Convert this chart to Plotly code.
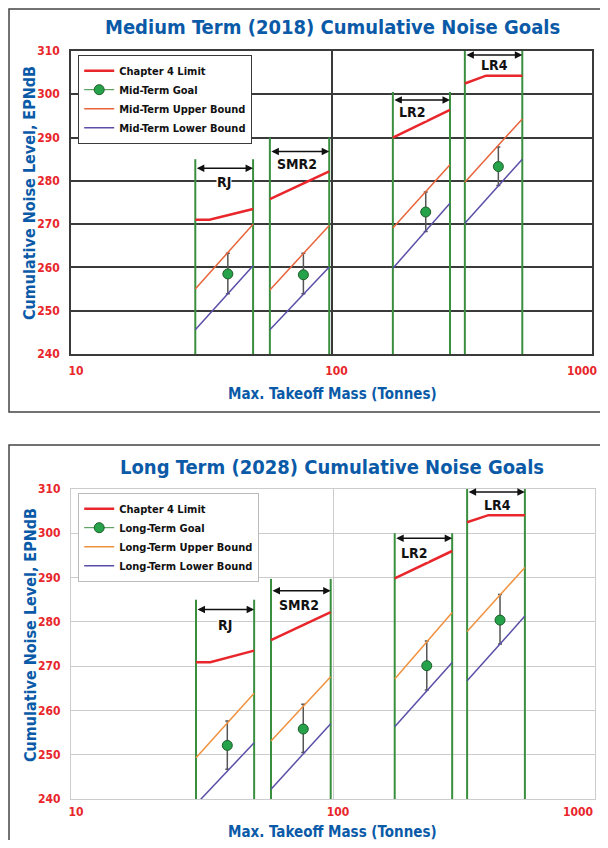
import numpy as np
import plotly.graph_objects as go

# ---------------- data ----------------
cats = ["RJ", "SMR2", "LR2", "LR4"]
mass_lo = [30, 58, 172, 325]
mass_hi = [50, 98, 285, 540]
label_mass = [38.7, 74, 205, 424]

ch4_mass = [[30, 34, 50], [58, 98], [172, 285], [325, 392, 540]]
ch4_mid = [[271, 271, 273.5], [275.8, 282.2], [290, 296.4], [302.5, 304.3, 304.3]]
ch4_long = [[270.9, 270.9, 273.5], [275.9, 282.2], [289.8, 296.0], [302.5, 304.1, 304.1]]

upper_mid = [[255, 270], [254.8, 269.7], [269.1, 283.7], [279.7, 294.3]]
lower_mid = [[245.6, 260.4], [245.6, 260.1], [259.8, 274.8], [270.2, 285.0]]
upper_long = [[249.3, 263.9], [253.1, 267.6], [267.1, 282.1], [277.8, 292.3]]
lower_long = [[238.8, 252.7], [242.2, 257.0], [256.3, 270.8], [266.7, 281.3]]

goal_mass_mid = [40, 78, 230, 437]
goal_mid = [258.5, 258.3, 272.8, 283.3]
goal_mid_plus = [4.8, 5.0, 4.6, 4.5]
goal_mid_minus = [4.6, 4.4, 4.5, 4.4]

goal_mass_long = [39.5, 77, 228, 434]
goal_long = [252.1, 255.8, 270.1, 280.4]
goal_long_plus = [5.5, 5.6, 5.6, 5.8]
goal_long_minus = [5.4, 5.3, 5.5, 5.4]

bracket_top_mid = [285, 290, 300.5, 311.5]
bracket_top_long = [285, 289.7, 300, 310.5]
arrow_y_mid = [282.9, 286.8, 298.7, 309.1]
arrow_y_long = [282.8, 287.0, 298.9, 309.3]
label_y_mid = [279.7, 284.0, 295.8, 306.8]
label_y_long = [279.3, 283.7, 295.5, 306.4]

y_ticks = [240, 250, 260, 270, 280, 290, 300, 310]
x_ticks = [10, 100, 1000]
x_tick_labels = ["10", "100", "1000"]

# ---------------- style ----------------
FONT = "Liberation Sans Narrow, DejaVu Sans Condensed, Arial Narrow, sans-serif"
BLUE = "#0a5aa8"
TICKRED = "#e8262b"
RED = "#e8262b"
GREEN = "#3a8f3f"
PURPLE = "#5a4fa8"

# page body has an 8px margin: figure starts at (8,8)
OFF = 8
W, H = 600, 832


def px_x(p):
    return (p - OFF) / W


def px_y(p):
    return 1 - (p - OFF) / H


fig = go.Figure()


def seg(xs_list, ys_list):
    xs, ys = [], []
    for a, b in zip(xs_list, ys_list):
        xs += list(a) + [None]
        ys += list(b) + [None]
    return xs, ys


tickfont = dict(family=FONT, size=12, color=TICKRED, weight="bold")


def add_panel(xa, ya, legend, ch4, upper, lower, up_color, gm, g, gp, gmi,
              btop, ay, ly, term, last_xshift, last_yshift):
    # green brackets
    bx, by = [], []
    for lo, hi, t in zip(mass_lo, mass_hi, btop):
        bx += [lo, lo, None, hi, hi, None]
        by += [240, t, None, 240, t, None]
    fig.add_trace(go.Scatter(x=bx, y=by, mode="lines", xaxis=xa, yaxis=ya,
                             line=dict(color=GREEN, width=2), showlegend=False,
                             hoverinfo="skip"))
    x, y = seg(ch4_mass, ch4)
    fig.add_trace(go.Scatter(x=x, y=y, mode="lines", xaxis=xa, yaxis=ya,
                             name="Chapter 4 Limit", legend=legend,
                             line=dict(color=RED, width=2.5)))
    # goals
    gx, gy, ep, em = [], [], [], []
    for a, b, c, d in zip(gm, g, gp, gmi):
        gx += [a, None]
        gy += [b, None]
        ep += [c, 0]
        em += [d, 0]
    fig.add_trace(go.Scatter(x=gx, y=gy, mode="lines+markers", xaxis=xa, yaxis=ya,
                             name=f"{term}-Term Goal", legend=legend,
                             line=dict(color=GREEN, width=1),
                             marker=dict(color="#25a24a", size=10,
                                         line=dict(color="#1d5e28", width=1)),
                             error_y=dict(type="data", array=ep, arrayminus=em,
                                          color="#555555", thickness=1.5, width=2)))
    ux, uy = seg([[lo, hi] for lo, hi in zip(mass_lo, mass_hi)], upper)
    fig.add_trace(go.Scatter(x=ux, y=uy, mode="lines", xaxis=xa, yaxis=ya,
                             name=f"{term}-Term Upper Bound", legend=legend,
                             line=dict(color=up_color, width=1.5)))
    lx, lyy = seg([[lo, hi] for lo, hi in zip(mass_lo, mass_hi)], lower)
    fig.add_trace(go.Scatter(x=lx, y=lyy, mode="lines", xaxis=xa, yaxis=ya,
                             name=f"{term}-Term Lower Bound", legend=legend,
                             line=dict(color=PURPLE, width=1.5)))
    for lo, hi, a_y, l_y, lm, c in zip(mass_lo, mass_hi, ay, ly, label_mass, cats):
        fig.add_annotation(x=np.log10(hi), y=a_y, ax=np.log10(lo), ay=a_y,
                           xref=xa, yref=ya, axref=xa, ayref=ya, text="",
                           showarrow=True, arrowhead=2, arrowside="end+start",
                           arrowsize=1, arrowwidth=1.5, arrowcolor="#111111",
                           standoff=0, startstandoff=0)
        fig.add_annotation(x=np.log10(lm), y=l_y, xref=xa, yref=ya,
                           xanchor="center", yanchor="middle",
                           text=f"<b>{c}</b>", showarrow=False,
                           font=dict(family=FONT, size=14, color="#111111"),
                           bgcolor="white", borderpad=0)
    # last x tick label, kept inside the frame (right-aligned to its tick)
    fig.add_annotation(x=np.log10(x_ticks[-1]), y=0, xref=xa, yref=f"{ya} domain",
                       xanchor="right", yanchor="middle", xshift=last_xshift,
                       yshift=last_yshift, text=x_tick_labels[-1],
                       showarrow=False, font=tickfont)


add_panel("x", "y", "legend", ch4_mid, upper_mid, lower_mid, "#e8643a",
          goal_mass_mid, goal_mid, goal_mid_plus, goal_mid_minus,
          bracket_top_mid, arrow_y_mid, label_y_mid, "Mid", 7, -17)
add_panel("x2", "y2", "legend2", ch4_long, upper_long, lower_long, "#f0913e",
          goal_mass_long, goal_long, goal_long_plus, goal_long_minus,
          bracket_top_long, arrow_y_long, label_y_long, "Long", 0, -13)


def xaxis(dom, gridc, gw, anchor, standoff):
    return dict(type="log", range=[1, 3], domain=dom, anchor=anchor,
                tickvals=x_ticks[:-1], ticktext=x_tick_labels[:-1],
                ticklabelshift=5, ticklabelstandoff=standoff,
                ticklabeloverflow="allow",
                tickfont=tickfont, showgrid=True, gridcolor=gridc, gridwidth=gw,
                showline=True, linecolor=gridc, linewidth=gw, mirror=True,
                ticks="", zeroline=False, automargin=False)


def yaxis(dom, gridc, gw, anchor):
    return dict(range=[240, 310], domain=dom, anchor=anchor, tickvals=y_ticks,
                tickfont=tickfont, showgrid=True, gridcolor=gridc, gridwidth=gw,
                showline=True, linecolor=gridc, linewidth=gw, mirror=True,
                ticks="", zeroline=False, ticklabelstandoff=7, automargin=False)


legend_common = dict(xanchor="left", yanchor="top", bgcolor="white",
                     borderwidth=1.2, font=dict(family=FONT, size=11,
                                                color="#111111", weight="bold"),
                     itemwidth=30, tracegroupgap=0)

fig.update_layout(
    width=W, height=H, margin=dict(l=0, r=0, t=0, b=0, autoexpand=False),
    paper_bgcolor="white", plot_bgcolor="white",
    xaxis=xaxis([px_x(71), px_x(592)], "#3a3a3a", 1.8, "y", 5),
    yaxis=yaxis([px_y(354), px_y(51)], "#3a3a3a", 1.8, "x"),
    xaxis2=xaxis([px_x(71), px_x(595)], "#cccccc", 1, "y2", 2),
    yaxis2=yaxis([px_y(799), px_y(489)], "#cccccc", 1, "x2"),
    legend=dict(x=px_x(78), y=px_y(55), bordercolor="#3a3a3a", **legend_common),
    legend2=dict(x=px_x(78), y=px_y(493), bordercolor="#bbbbbb", **legend_common),
    showlegend=True,
)

# panel borders
fig.add_shape(type="rect", xref="paper", yref="paper", x0=px_x(9), x1=1.02,
              y0=px_y(412), y1=px_y(9), line=dict(color="#444444", width=1.5),
              layer="below")
fig.add_shape(type="rect", xref="paper", yref="paper", x0=px_x(9), x1=1.02,
              y0=-0.02, y1=px_y(445), line=dict(color="#444444", width=1.5),
              layer="below")

titlefont = dict(family=FONT, size=20, color=BLUE, weight="bold")
axfont = dict(family=FONT, size=15, color=BLUE, weight="bold")
yaxfont = dict(family=FONT, size=16, color=BLUE, weight="bold")

for title, ty, ycen, xty in [
    ("Medium Term (2018) Cumulative Noise Goals", 27, 193, 394),
    ("Long Term (2028) Cumulative Noise Goals", 467, 635, 832),
]:
    fig.add_annotation(x=px_x(332), y=px_y(ty), xref="paper", yref="paper",
                       xanchor="center", yanchor="middle",
                       text=title, showarrow=False, font=titlefont)
    fig.add_annotation(x=px_x(30), y=px_y(ycen), xref="paper", yref="paper",
                       xanchor="center", yanchor="middle",
                       text="Cumulative Noise Level, EPNdB", textangle=-90,
                       showarrow=False, font=yaxfont)
    fig.add_annotation(x=px_x(332), y=px_y(xty), xref="paper", yref="paper",
                       xanchor="center", yanchor="middle",
                       text="Max. Takeoff Mass (Tonnes)", showarrow=False,
                       font=axfont)

fig.write_html("out.html")
